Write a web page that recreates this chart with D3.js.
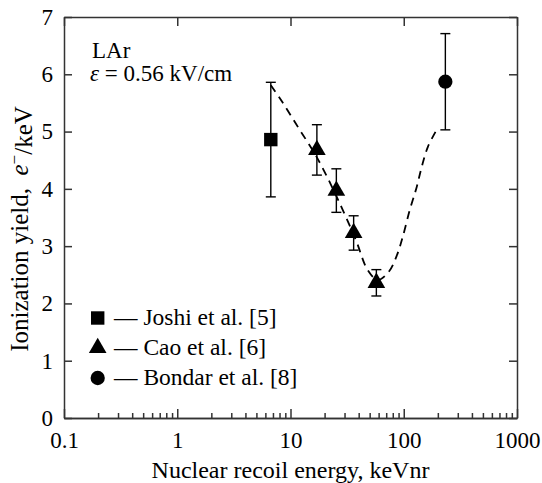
<!DOCTYPE html>
<html lang="en">
<head>
  <meta charset="UTF-8" />
  <title>Ionization yield LAr</title>
  <script src="https://d3js.org/d3.v7.min.js"></script>
  <style>
    body { margin: 0; background: #fff; }
    svg { display: block; }
    text { font-family: "Liberation Serif", "Times New Roman", serif; fill: #000; }
    .axis path, .axis line { stroke: #333; stroke-width: 1.5; }
    .axis text { font-size: 23px; font-family: "Liberation Serif", "Times New Roman", serif; }
  </style>
</head>
<body>
<script>
  // Joshi et al. [5]
  var joshiE = [6.7];
  var joshiY = [4.86];
  var joshiErr = [1.0];

  // Cao et al. [6]
  var caoE = [17.1, 25.4, 36.1, 57.3];
  var caoY = [4.68, 3.97, 3.23, 2.36];
  var caoErr = [0.44, 0.38, 0.30, 0.23];

  // Bondar et al. [8]
  var bondarE = [233];
  var bondarY = [5.87];
  var bondarErr = [0.84];

  // dashed guide curve
  var curveE = [6.7, 8.5, 11.8, 17.1, 25.6, 37.7, 48.1, 58.9, 73.6, 86.6, 97.9, 113, 130, 144, 163, 195];
  var curveY = [5.81, 5.51, 5.06, 4.55, 3.86, 3.11, 2.58, 2.41, 2.55, 2.83, 3.16, 3.63, 4.03, 4.38, 4.73, 5.03];

  var xMajor = [0.1, 1, 10, 100, 1000];
  var xMajorLabels = ["0.1", "1", "10", "100", "1000"];
  var yTicks = [0, 1, 2, 3, 4, 5, 6, 7];

  var legendNames = ["Joshi et al. [5]", "Cao et al. [6]", "Bondar et al. [8]"];

  var W = 542, H = 483;
  var plotL = 64, plotR = 517, plotT = 17, plotB = 418;

  var x = d3.scaleLog().domain([0.1, 1000]).range([plotL, plotR]);
  var y = d3.scaleLinear().domain([0, 7]).range([plotB, plotT]);

  var xMinor = [];
  [0.1, 1, 10, 100].forEach(function (d) {
    for (var k = 2; k <= 9; k++) xMinor.push(d * k);
  });

  var svg = d3.select("body").append("svg")
    .attr("width", W)
    .attr("height", H);

  // frame + ticks
  svg.append("g").attr("class", "axis")
    .attr("transform", "translate(0," + plotB + ")")
    .call(d3.axisBottom(x).tickValues(xMinor).tickFormat("").tickSizeInner(-5).tickSizeOuter(0));
  svg.append("g").attr("class", "axis")
    .attr("transform", "translate(0," + plotB + ")")
    .call(d3.axisBottom(x).tickValues(xMajor)
      .tickFormat(function (d, i) { return xMajorLabels[i]; })
      .tickSizeInner(-9).tickSizeOuter(0).tickPadding(14));
  svg.append("g").attr("class", "axis")
    .attr("transform", "translate(0," + plotT + ")")
    .call(d3.axisTop(x).tickValues(xMajor).tickFormat("").tickSizeInner(-9).tickSizeOuter(0));
  svg.append("g").attr("class", "axis")
    .attr("transform", "translate(" + plotL + ",0)")
    .call(d3.axisLeft(y).tickValues(yTicks).tickFormat(d3.format("d"))
      .tickSizeInner(-8).tickSizeOuter(0).tickPadding(11));
  svg.append("g").attr("class", "axis")
    .attr("transform", "translate(" + plotR + ",0)")
    .call(d3.axisRight(y).tickValues(yTicks).tickFormat("").tickSizeInner(-8).tickSizeOuter(0));

  // dashed curve
  var curveData = curveE.map(function (e, i) { return [e, curveY[i]]; });
  svg.append("path")
    .datum(curveData)
    .attr("d", d3.line()
      .x(function (d) { return x(d[0]); })
      .y(function (d) { return y(d[1]); })
      .curve(d3.curveCatmullRom))
    .attr("fill", "none")
    .attr("stroke", "#000")
    .attr("stroke-width", 1.8)
    .attr("stroke-dasharray", "8,6");

  function series(E, Y, Err, symbol, size) {
    var data = E.map(function (e, i) { return { e: e, y: Y[i], err: Err[i] }; });
    var g = svg.append("g");
    var eb = g.selectAll(".eb").data(data).enter().append("g")
      .attr("stroke", "#000").attr("stroke-width", 1.4);
    eb.append("line")
      .attr("x1", function (d) { return x(d.e); })
      .attr("x2", function (d) { return x(d.e); })
      .attr("y1", function (d) { return y(d.y - d.err); })
      .attr("y2", function (d) { return y(d.y + d.err); });
    [-1, 1].forEach(function (s) {
      eb.append("line")
        .attr("x1", function (d) { return x(d.e) - 5; })
        .attr("x2", function (d) { return x(d.e) + 5; })
        .attr("y1", function (d) { return y(d.y + s * d.err); })
        .attr("y2", function (d) { return y(d.y + s * d.err); });
    });
    g.selectAll(".pt").data(data).enter().append("path")
      .attr("transform", function (d) { return "translate(" + x(d.e) + "," + y(d.y) + ")"; })
      .attr("d", d3.symbol().type(symbol).size(size))
      .attr("fill", "#000");
  }

  var symbols = [d3.symbolSquare, d3.symbolTriangle, d3.symbolCircle];
  var sizes = [180, 135, 160];
  series(joshiE, joshiY, joshiErr, symbols[0], sizes[0]);
  series(caoE, caoY, caoErr, symbols[1], sizes[1]);
  series(bondarE, bondarY, bondarErr, symbols[2], sizes[2]);

  // annotation
  svg.append("text").attr("x", 92).attr("y", 58).style("font-size", "23px").text("LAr");
  var eps = svg.append("text").attr("x", 90).attr("y", 81).style("font-size", "23px");
  eps.append("tspan").style("font-style", "italic").text("\u03b5");
  eps.append("tspan").text(" = 0.56 kV/cm");

  // legend
  var legY = [318, 348, 378];
  legendNames.forEach(function (name, i) {
    svg.append("path")
      .attr("transform", "translate(97.7," + legY[i] + ")")
      .attr("d", d3.symbol().type(symbols[i]).size(sizes[i]))
      .attr("fill", "#000");
    svg.append("text")
      .attr("x", 114)
      .attr("y", legY[i] + 7)
      .style("font-size", "23.5px")
      .text("\u2014 " + name);
  });

  // axis titles
  svg.append("text")
    .attr("x", (plotL + plotR) / 2)
    .attr("y", 478)
    .attr("text-anchor", "middle")
    .style("font-size", "24px")
    .text("Nuclear recoil energy, keVnr");

  var yl = svg.append("text")
    .attr("transform", "translate(28," + 229 + ") rotate(-90)")
    .attr("text-anchor", "middle")
    .style("font-size", "25px");
  yl.append("tspan").text("Ionization yield,\u00a0\u00a0");
  yl.append("tspan").style("font-style", "italic").text("e");
  yl.append("tspan").attr("dy", "-0.45em").style("font-size", "17px").text("\u2212");
  yl.append("tspan").attr("dy", "0.45em").text("/keV");
</script>
</body>
</html>
